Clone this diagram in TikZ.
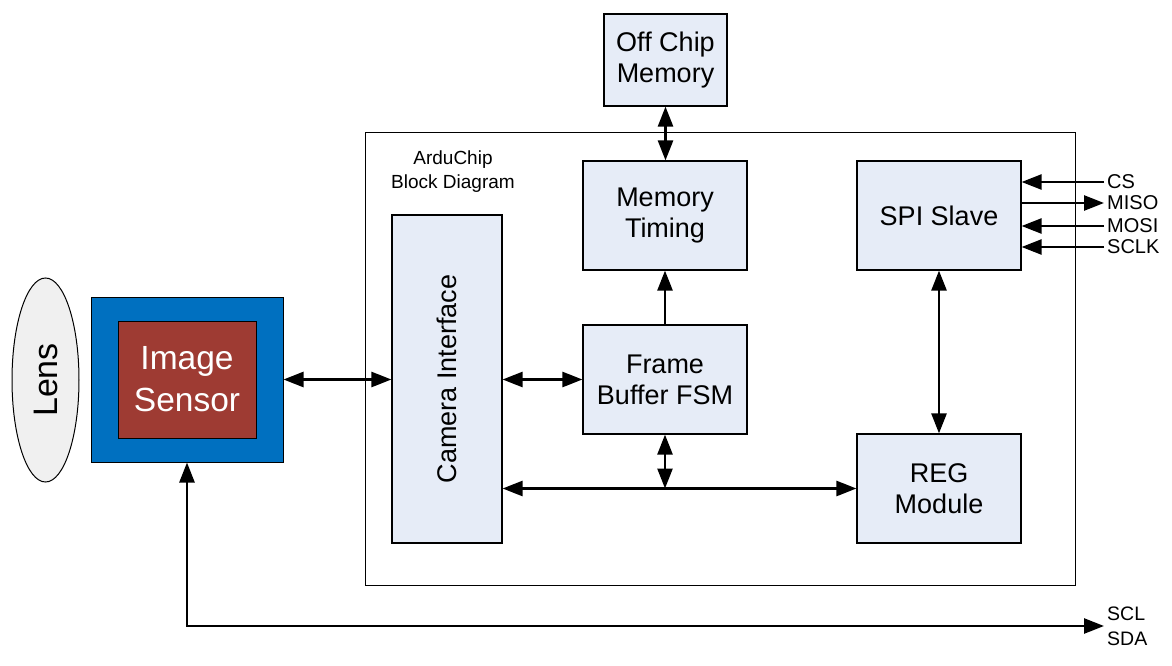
\documentclass[tikz,border=0pt]{standalone}
\usepackage{graphicx}
\usepackage{fontspec}
\setmainfont{Liberation Sans}
\setsansfont{Liberation Sans}
\usetikzlibrary{arrows.meta,positioning,calc,shapes.geometric}

\definecolor{boxfill}{HTML}{E6ECF7}
\definecolor{sensorblue}{HTML}{0070C0}
\definecolor{sensorred}{HTML}{9E3B33}
\definecolor{lensgray}{HTML}{F0F0F0}

\begin{document}
\begin{tikzpicture}[x=1pt, y=-1pt,
  font=\sffamily,
  block/.style={draw, line width=1.2pt, fill=boxfill, align=center, inner sep=0pt,
    font=\sffamily\fontsize{27}{31}\selectfont},
  sig/.style={anchor=west, inner sep=3pt, font=\sffamily\fontsize{20}{22}\selectfont},
  link/.style={line width=2.6pt, -{Triangle[length=20pt,width=15pt]}},
  dlink/.style={line width=2.6pt, {Triangle[length=20pt,width=15pt]}-{Triangle[length=20pt,width=15pt]}}
]
\useasboundingbox (0,0) rectangle (1172,666);

% chip frame
\node[draw, line width=1pt, inner sep=0pt, minimum width=710pt, minimum height=452pt] (chip) at (720,359) {};
\node[align=center, font=\sffamily\fontsize{19}{24}\selectfont] (chiplabel) at (453,172) {ArduChip\\Block Diagram};

% optics
\node[draw, ellipse, line width=1pt, fill=lensgray, inner sep=0pt, minimum width=67pt, minimum height=204pt,
  font=\sffamily\fontsize{34}{40}\selectfont] (lens) at (45.5,380) {\rotatebox{90}{Lens}};
\node[draw, line width=1pt, fill=sensorblue, inner sep=0pt, minimum width=192pt, minimum height=165pt] (sensor) at (187,379.5) {};
\node[draw, line width=1pt, fill=sensorred, text=white, align=center, inner sep=0pt, minimum width=138pt, minimum height=117pt,
  font=\sffamily\fontsize{33.5}{42}\selectfont] (sensorcore) at (187,379.5) {Image\\Sensor};

% blocks
\node[block, minimum width=123pt, minimum height=92pt] (offchip) at (665.5,60) {Off Chip\\Memory};
\node[block, minimum width=164pt, minimum height=109pt] (memtiming) at (665,215.5) {Memory\\Timing};
\node[block, minimum width=164pt, minimum height=109pt] (fbfsm) at (665,379.5) {Frame\\Buffer FSM};
\node[block, minimum width=110pt, minimum height=328pt] (camif) at (447,379) {\rotatebox{90}{Camera Interface}};
\node[block, minimum width=164pt, minimum height=109pt] (spi) at (939,215.5) {SPI Slave};
\node[block, minimum width=164pt, minimum height=109pt] (reg) at (939,488.5) {REG\\Module};

% pins
\node[sig] (cs) at (1104,182) {CS};
\node[sig] (miso) at (1104,203) {MISO};
\node[sig] (mosi) at (1104,226) {MOSI};
\node[sig] (sclk) at (1104,247) {SCLK};
\node[sig, align=left, font=\sffamily\fontsize{19.5}{25}\selectfont] (i2c) at (1104,626) {SCL\\SDA};

% connections
\draw[dlink] (sensor.east) -- (sensor.east -| camif.west);
\draw[dlink] (fbfsm.west -| camif.east) -- (fbfsm.west);
\draw[dlink] (offchip.south) -- (offchip.south |- memtiming.north);
\draw[link] (fbfsm.north) -- (memtiming.south);
\draw[dlink] (reg.west -| camif.east) -- (reg.west);
\coordinate (busjoin) at (fbfsm.south |- reg.west);
\draw[dlink] (fbfsm.south) -- (busjoin);
\draw[dlink] (spi.south) -- (reg.north);

\draw[link] (cs.west) -- (cs.west -| spi.east);
\draw[link] (miso.west -| spi.east) -- (miso.west);
\draw[link] (mosi.west) -- (mosi.west -| spi.east);
\draw[link] (sclk.west) -- (sclk.west -| spi.east);
\draw[dlink] (i2c.west) -| (sensor.south);

\end{tikzpicture}
\end{document}
